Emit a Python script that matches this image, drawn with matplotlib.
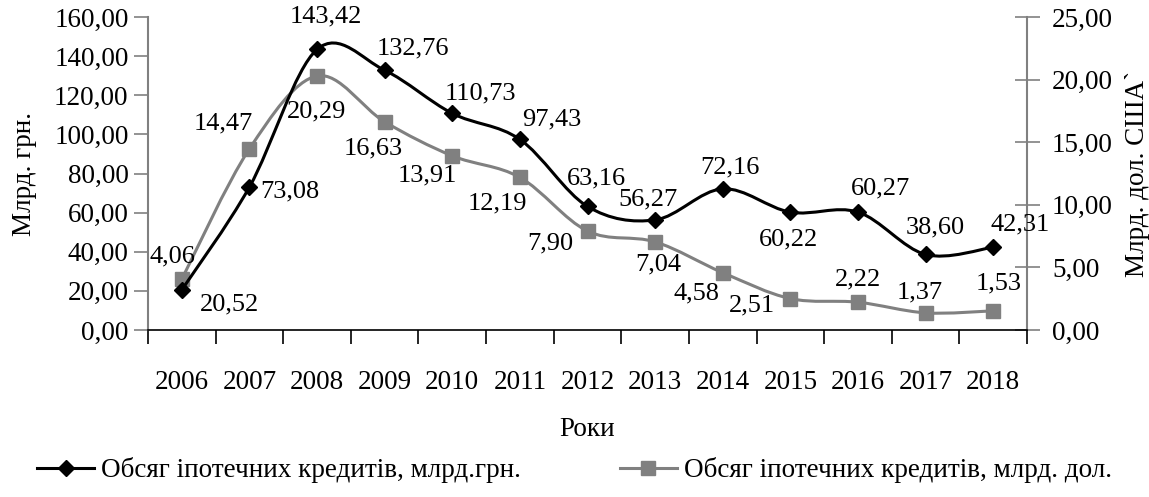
import matplotlib
matplotlib.use("Agg")
import matplotlib.pyplot as plt
from matplotlib.path import Path
from matplotlib.patches import PathPatch
from matplotlib.lines import Line2D
from matplotlib.ticker import FuncFormatter, FixedLocator
import numpy as np

plt.rcParams['font.family'] = ['Liberation Serif', 'DejaVu Serif']

years = ["2006", "2007", "2008", "2009", "2010", "2011", "2012",
         "2013", "2014", "2015", "2016", "2017", "2018"]
uah_bn = [20.52, 73.08, 143.42, 132.76, 110.73, 97.43, 63.16,
          56.27, 72.16, 60.22, 60.27, 38.60, 42.31]
usd_bn = [4.06, 14.47, 20.29, 16.63, 13.91, 12.19, 7.90,
          7.04, 4.58, 2.51, 2.22, 1.37, 1.53]

label_uah = "Обсяг іпотечних кредитів, млрд.грн."
label_usd = "Обсяг іпотечних кредитів, млрд. дол."

# label offsets in screen pixels (x right, y down)
off_uah = [(48, 15), (40, 4), (9, -33), (28, -22), (28, -20), (32, -20), (9, -28),
           (-7, -20), (7, -21), (-2, 27), (23, -24), (10, -27), (27, -23)]
off_usd = [(-9, -23), (-26, -25), (0, 35), (-11, 27), (-25, 20), (-22, 26), (-37, 12),
           (3, 23), (-26, 21), (-38, 7), (0, -23), (-6, -20), (5, -27)]

GREY = "#808080"
DPI = 100
FS = 19.5


def smooth_path(x, y):
    # Excel-like smoothed line: cubic Bezier through every point
    pts = np.column_stack([x, y]).astype(float)
    verts = [pts[0]]
    codes = [Path.MOVETO]
    n = len(pts)
    for i in range(n - 1):
        p0 = pts[i - 1] if i > 0 else pts[i]
        p1, p2 = pts[i], pts[i + 1]
        p3 = pts[i + 2] if i + 2 < n else pts[i + 1]
        c1 = p1 + (p2 - p0) / 6.0
        c2 = p2 - (p3 - p1) / 6.0
        verts += [c1, c2, p2]
        codes += [Path.CURVE4] * 3
    return Path(verts, codes)


def fmt(v, _=None):
    return f"{v:.2f}".replace(".", ",")


fig = plt.figure(figsize=(11.49, 4.97), dpi=DPI)
ax = fig.add_axes([148 / 1149, 1 - 330 / 497, (1027 - 148) / 1149, (330 - 17) / 497])
ax2 = ax.twinx()
ax.set_zorder(ax2.get_zorder() + 1)
ax.patch.set_visible(False)

x = np.arange(len(years))

ax2.add_patch(PathPatch(smooth_path(x, usd_bn), fill=False, edgecolor=GREY, lw=2.2, zorder=2))
ax2.plot(x, usd_bn, linestyle="none", marker="s", ms=10.5, color=GREY, zorder=3)
ax.add_patch(PathPatch(smooth_path(x, uah_bn), fill=False, edgecolor="black", lw=2.2, zorder=2))
ax.plot(x, uah_bn, linestyle="none", marker="D", ms=8, color="black", zorder=3)

k = 72 / DPI
for xi, v, (dx, dy) in zip(x, uah_bn, off_uah):
    ax.annotate(fmt(v), (xi, v), xytext=(dx * k, -dy * k), textcoords="offset points",
                ha="center", va="center", fontsize=19)
for xi, v, (dx, dy) in zip(x, usd_bn, off_usd):
    ax2.annotate(fmt(v), (xi, v), xytext=(dx * k, -dy * k), textcoords="offset points",
                 ha="center", va="center", fontsize=19)

ax.set_xlim(-0.5, len(years) - 0.5)
ax.set_ylim(0, 160)
ax2.set_ylim(0, 25)
ax.set_yticks(np.arange(0, 161, 20))
ax2.set_yticks(np.arange(0, 26, 5))
ax.yaxis.set_major_formatter(FuncFormatter(fmt))
ax2.yaxis.set_major_formatter(FuncFormatter(fmt))

ax.set_xticks(x)
ax.set_xticklabels(years)
ax.xaxis.set_minor_locator(FixedLocator(np.arange(-0.5, len(years), 1.0)))
ax.tick_params(axis="x", which="major", length=0, pad=29, labelsize=FS)
ax.tick_params(axis="x", which="minor", length=10, width=1.2, color="black", direction="out")
ax.tick_params(axis="y", length=10, width=1.2, color=GREY, direction="out", pad=4, labelsize=FS)
ax2.tick_params(axis="y", length=18, width=1.2, color=GREY, direction="inout", pad=9, labelsize=FS)

for a in (ax, ax2):
    a.spines["top"].set_visible(False)
ax.spines["right"].set_visible(False)
ax2.spines["left"].set_visible(False)
ax2.spines["bottom"].set_visible(False)
ax.spines["left"].set_color(GREY)
ax.spines["left"].set_linewidth(1.5)
ax2.spines["right"].set_color(GREY)
ax2.spines["right"].set_linewidth(1.5)
ax.spines["bottom"].set_color("black")
ax.spines["bottom"].set_linewidth(1.2)

ax.set_ylabel("Млрд. грн.", fontsize=FS, labelpad=12)
ax2.set_ylabel("Млрд. дол. США`", fontsize=FS, labelpad=9)
ax.set_xlabel("Роки", fontsize=FS, labelpad=16)

handles = [
    Line2D([], [], color="black", lw=2.2, marker="D", ms=8),
    Line2D([], [], color=GREY, lw=2.2, marker="s", ms=10.5),
]
fig.legend(handles, [label_uah, label_usd], loc="center", bbox_to_anchor=(0.5, 1 - 470 / 497),
           ncol=2, frameon=False, fontsize=19.5, handlelength=2.1, handletextpad=0.25,
           columnspacing=3.65)

fig.savefig("out.png", dpi=DPI)
plt.close(fig)
